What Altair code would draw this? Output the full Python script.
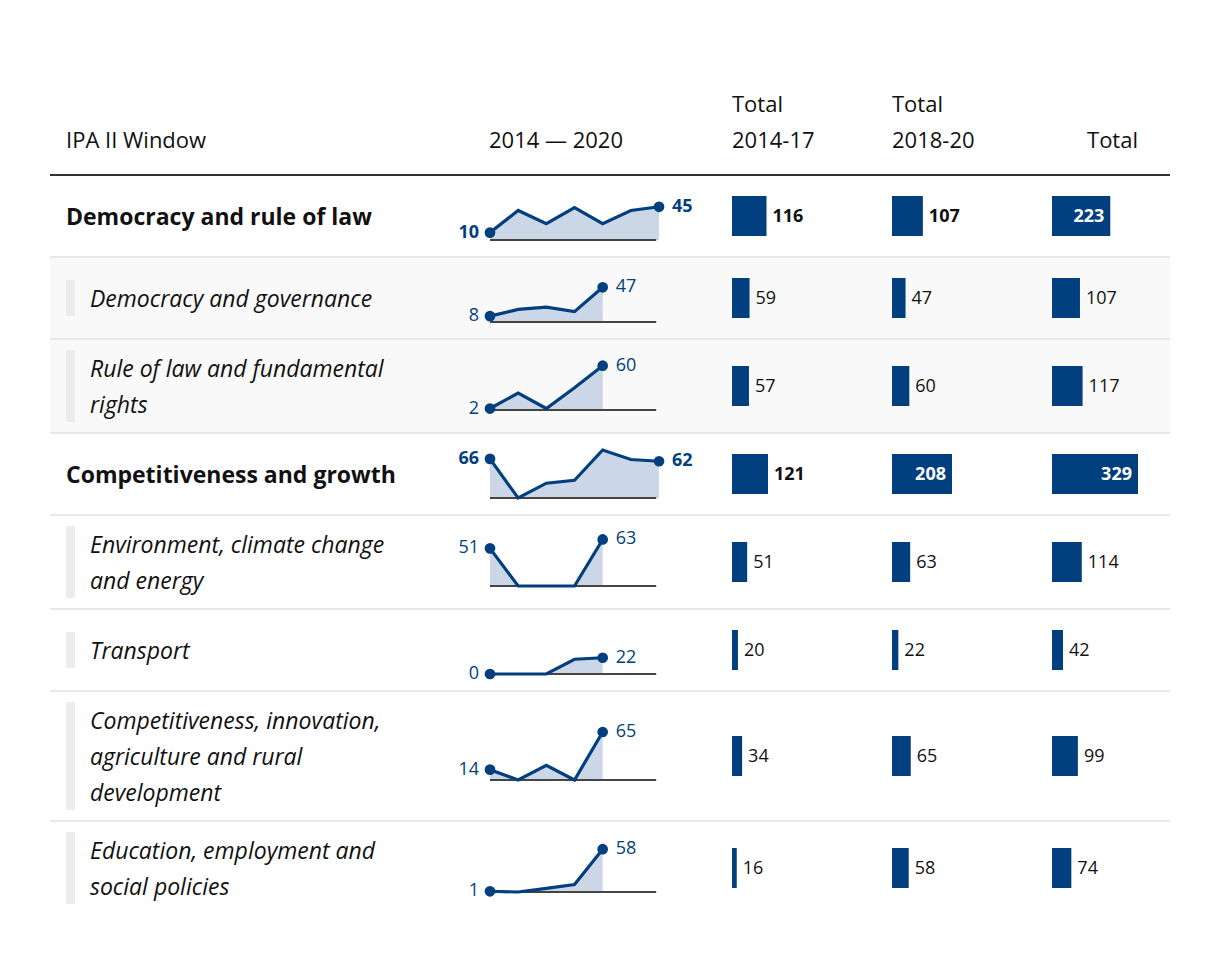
import altair as alt
import pandas as pd

# ---------------- data ----------------
categories = [
    "Democracy and rule of law",
    "Democracy and governance",
    "Rule of law and fundamental rights",
    "Competitiveness and growth",
    "Environment, climate change and energy",
    "Transport",
    "Competitiveness, innovation, agriculture and rural development",
    "Education, employment and social policies",
]
label_lines = [
    "Democracy and rule of law",
    "Democracy and governance",
    "Rule of law and fundamental\nrights",
    "Competitiveness and growth",
    "Environment, climate change\nand energy",
    "Transport",
    "Competitiveness, innovation,\nagriculture and rural\ndevelopment",
    "Education, employment and\nsocial policies",
]
levels = ["main", "sub", "sub", "main", "sub", "sub", "sub", "sub"]

spark_values = [
    [10, 40, 22, 44, 22, 40, 45],
    [8, 17, 20, 14, 47],
    [2, 23, 2, 30, 60],
    [66, 0, 25, 30, 81, 65, 62],
    [51, 0, 0, 0, 63],
    [0, 0, 0, 20, 22],
    [14, 0, 20, 0, 65],
    [1, 0, 5, 10, 58],
]
total_2014_17 = [116, 59, 57, 121, 51, 20, 34, 16]
total_2018_20 = [107, 47, 60, 208, 63, 22, 65, 58]
total_all = [223, 107, 117, 329, 114, 42, 99, 74]

header_labels = ["IPA II Window", "2014 — 2020", "Total\n2014-17", "Total\n2018-20", "Total"]

# ---------------- style ----------------
FONT = "Open Sans"
BLUE = "#023f7e"
AREA = "#cbd7e6"
INK = "#111111"
ROW_H = [80, 80, 92, 80, 92, 80, 128, 92]
ROW_BG = ["#ffffff", "#f9f9f9", "#f9f9f9", "#ffffff", "#ffffff", "#ffffff", "#ffffff", "#ffffff"]
LABEL_W, SPARK_W = 440, 242
BAR_W = [160, 160, 118]
TABLE_W = LABEL_W + SPARK_W + sum(BAR_W)
SPARK_STEP = 28.17
SPARK_PX = 48
SPARK_REF = 65
BAR_PX_MAX = [36, 60, 86]
HEADER_H = 134
FS_HEAD = 22
FS_LABEL = 23
FS_SMALL = 18
LINE_H = 36


def view(bg):
    return alt.ViewBackground(fill=bg, strokeWidth=0)


def label_panel(i):
    h = ROW_H[i]
    main = levels[i] == "main"
    n = label_lines[i].count("\n") + 1
    df = pd.DataFrame({"row": [categories[i]], "text": [label_lines[i]]})
    txt = alt.Chart(df).mark_text(
        align="left", baseline="middle", font=FONT, fontSize=FS_LABEL,
        lineBreak="\n", lineHeight=LINE_H, color=INK,
        dy=-(n - 1) * LINE_H / 2 + 2,
        fontWeight="bold" if main else "normal",
        fontStyle="normal" if main else "italic",
    ).encode(
        x=alt.value(16 if main else 40),
        y=alt.Y("row:N", axis=None),
        text="text:N",
    )
    layers = [txt]
    if not main:
        ind = alt.Chart(df).mark_rule(color="#ececec", strokeWidth=9).encode(
            x=alt.value(20.5),
            y=alt.value(h / 2 - 18 * n),
            y2=alt.value(h / 2 + 18 * n),
        )
        layers = [ind, txt]
    return alt.layer(*layers).properties(width=LABEL_W, height=h, view=view(ROW_BG[i]))


def spark_panel(i):
    h = ROW_H[i]
    main = levels[i] == "main"
    vals = spark_values[i]
    n = len(vals)
    df = pd.DataFrame({"i": list(range(n)), "v": vals})
    df["pos"] = ["first" if j == 0 else ("last" if j == n - 1 else "mid") for j in range(n)]
    k = SPARK_PX / max(SPARK_REF, max(vals))
    b = h / 2 + 24
    ys = alt.Scale(domain=[-(h - b) / k, b / k], nice=False, zero=False)
    xs = alt.Scale(domain=[0, SPARK_W / SPARK_STEP], nice=False, zero=False)
    base = alt.Chart(df).encode(
        x=alt.X("i:Q", scale=xs, axis=None),
        y=alt.Y("v:Q", scale=ys, axis=None),
    )
    area = base.mark_area(color=AREA, opacity=1).encode(y2=alt.Y2(datum=0))
    rule = alt.Chart(df).mark_rule(color="#444444", strokeWidth=2).encode(
        x=alt.X(datum=0, scale=xs, axis=None),
        x2=alt.X2(datum=5.9),
        y=alt.Y(datum=0, scale=ys, axis=None),
    ).transform_filter("datum.pos == 'first'")
    line = base.mark_line(color=BLUE, strokeWidth=3.2)
    dots = base.mark_circle(size=115, color=BLUE, opacity=1).transform_filter("datum.pos != 'mid'")
    fw = "bold" if main else "normal"
    first = base.mark_text(align="right", baseline="middle", dx=-11, font=FONT, fontSize=FS_SMALL,
                           fontWeight=fw, color=BLUE).encode(text="v:Q").transform_filter("datum.pos == 'first'")
    last = base.mark_text(align="left", baseline="middle", dx=13, font=FONT, fontSize=FS_SMALL,
                          fontWeight=fw, color=BLUE).encode(text="v:Q").transform_filter("datum.pos == 'last'")
    return alt.layer(area, rule, line, dots, first, last).properties(
        width=SPARK_W, height=h, view=view(ROW_BG[i]))


def bar_panel(i, col, values):
    h = ROW_H[i]
    main = levels[i] == "main"
    w = BAR_W[col]
    vmax = max(values)
    dom = vmax * w / BAR_PX_MAX[col]
    v = values[i]
    inside = v * BAR_PX_MAX[col] / vmax > 50
    df = pd.DataFrame({"row": [categories[i]], "v": [v]})
    base = alt.Chart(df).encode(
        x=alt.X("v:Q", scale=alt.Scale(domain=[0, dom], nice=False), axis=None),
        y=alt.Y("row:N", axis=None),
    )
    bar = base.mark_bar(size=40, color=BLUE)
    txt = base.mark_text(
        align="right" if inside else "left",
        dx=-6 if inside else 6, dy=1,
        baseline="middle", font=FONT, fontSize=FS_SMALL,
        fontWeight="bold" if main else "normal",
        color="#ffffff" if inside else INK,
    ).encode(text="v:Q")
    return alt.layer(bar, txt).properties(width=w, height=h, view=view(ROW_BG[i]))


def header_text(text, w, x, align, y):
    df = pd.DataFrame({"t": [text]})
    return alt.Chart(df).mark_text(
        align=align, baseline="middle", font=FONT, fontSize=FS_HEAD, color=INK,
        lineBreak="\n", lineHeight=LINE_H,
    ).encode(text="t:N", x=alt.value(x), y=alt.value(y)).properties(
        width=w, height=HEADER_H, view=view("#ffffff"))


def separator(color):
    df = pd.DataFrame({"a": [0]})
    return alt.Chart(df).mark_rect(color=color).encode(
        x=alt.value(0), x2=alt.value(TABLE_W), y=alt.value(0), y2=alt.value(2)
    ).properties(width=TABLE_W, height=2, view=view(color))


header = alt.hconcat(
    header_text(header_labels[0], LABEL_W, 16, "left", 101),
    header_text(header_labels[1], SPARK_W, 66, "center", 101),
    header_text(header_labels[2], BAR_W[0], 0, "left", 65),
    header_text(header_labels[3], BAR_W[1], 0, "left", 65),
    header_text(header_labels[4], BAR_W[2], 86, "right", 101),
    spacing=0, bounds="flush",
)

blocks = [header, separator("#333333")]
for i in range(len(categories)):
    row = alt.hconcat(
        label_panel(i),
        spark_panel(i),
        bar_panel(i, 0, total_2014_17),
        bar_panel(i, 1, total_2018_20),
        bar_panel(i, 2, total_all),
        spacing=0, bounds="flush",
    )
    blocks.append(row)
    if i < len(categories) - 1:
        blocks.append(separator("#e8e8e8"))

chart = alt.vconcat(*blocks, spacing=0).properties(
    padding={"left": 42, "top": 32, "right": 8, "bottom": 8},
    background="#ffffff",
).configure_view(strokeWidth=0).configure(font=FONT)

chart.save("out.html", embed_options={"renderer": "svg", "actions": False})
